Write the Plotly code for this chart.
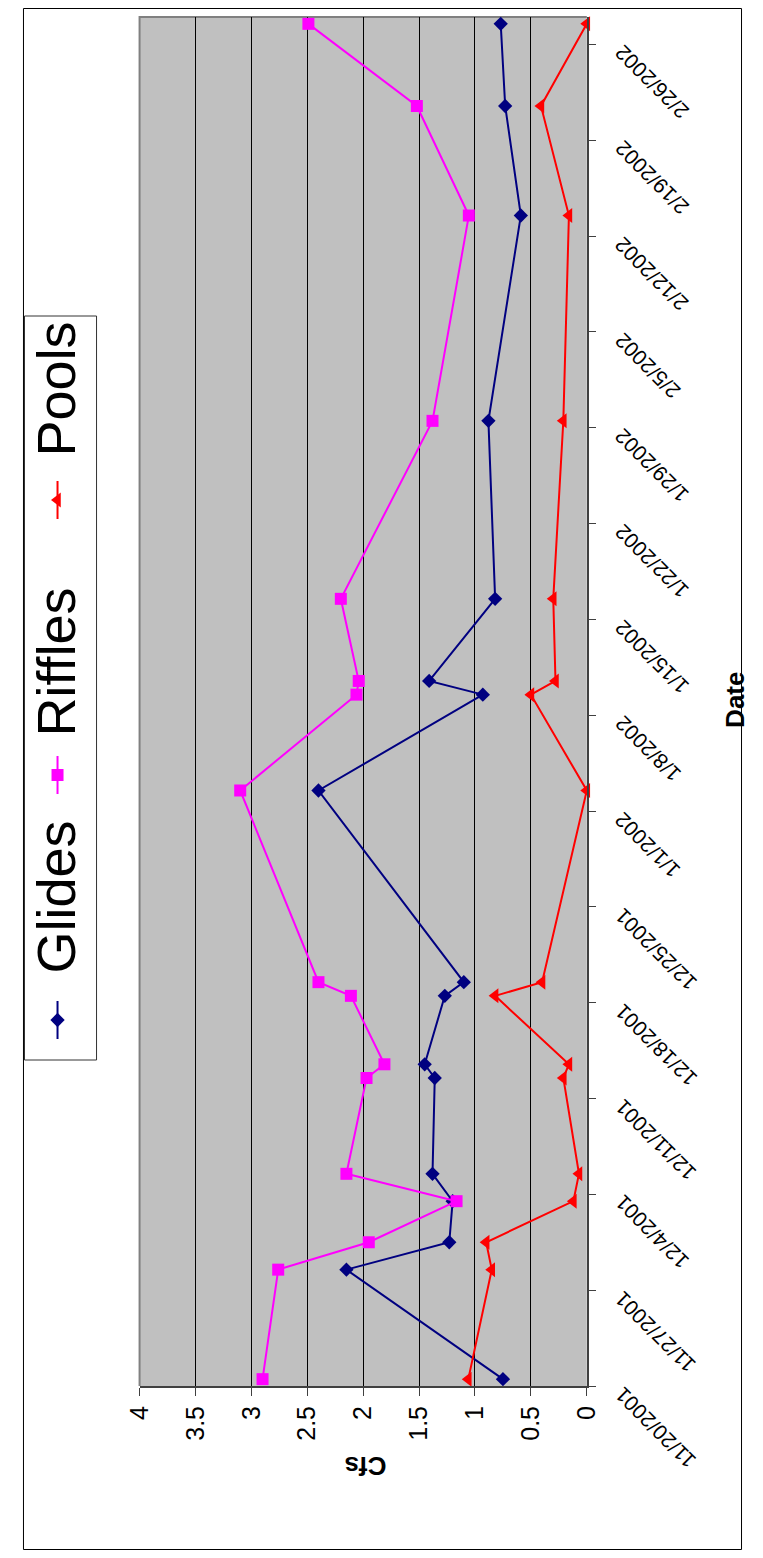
import plotly.graph_objects as go
import pandas as pd

# ---------------- data ----------------
dates = ["2001-11-20", "2001-11-28", "2001-11-30", "2001-12-03", "2001-12-05",
         "2001-12-12", "2001-12-13", "2001-12-18", "2001-12-19", "2002-01-02",
         "2002-01-09", "2002-01-10", "2002-01-16", "2002-01-29", "2002-02-13",
         "2002-02-21", "2002-02-27"]
glides = [0.75, 2.15, 1.23, 1.20, 1.38, 1.36, 1.45, 1.27, 1.10, 2.40,
          0.93, 1.41, 0.82, 0.88, 0.59, 0.73, 0.77]
riffles = [2.90, 2.76, 1.95, 1.165, 2.15, 1.97, 1.81, 2.11, 2.40, 3.10,
           2.06, 2.04, 2.20, 1.38, 1.055, 1.52, 2.49]
pools = [1.06, 0.85, 0.90, 0.12, 0.07, 0.21, 0.16, 0.82, 0.40, 0.00,
         0.50, 0.28, 0.30, 0.21, 0.16, 0.41, 0.00]

date_ticks = ["2001-11-20", "2001-11-27", "2001-12-04", "2001-12-11", "2001-12-18",
              "2001-12-25", "2002-01-01", "2002-01-08", "2002-01-15", "2002-01-22",
              "2002-01-29", "2002-02-05", "2002-02-12", "2002-02-19", "2002-02-26"]
date_labels = ["11/20/2001", "11/27/2001", "12/4/2001", "12/11/2001", "12/18/2001",
               "12/25/2001", "1/1/2002", "1/8/2002", "1/15/2002", "1/22/2002",
               "1/29/2002", "2/5/2002", "2/12/2002", "2/19/2002", "2/26/2002"]
cfs_ticks = [0, 0.5, 1, 1.5, 2, 2.5, 3, 3.5, 4]
cfs_labels = ["0", "0.5", "1", "1.5", "2", "2.5", "3", "3.5", "4"]
series_names = ["Glides", "Riffles", "Pools"]

# ---------------- geometry helpers ----------------
OFF = 8
W, H = 747, 1542
# measured: picture x = SX0 + SXK * page x
SX0, SXK = 14.8, 0.962


def px(X):
    """target picture x -> paper x"""
    return ((X - SX0) / SXK - OFF) / W


def py(Y):
    """target picture y -> paper y"""
    return (OFF + H - Y) / H


FONT = "Arial, Liberation Sans, sans-serif"
colors = ["#000080", "#FF00FF", "#FF0000"]
symbols = ["diamond", "square", "triangle-left"]
sizes = [11, 12, 13]

# points sit in the middle of their day (Excel date axis)
ydates = pd.to_datetime(dates) + pd.Timedelta(hours=12)

fig = go.Figure()
for name, vals, c, s, sz in zip(series_names, [glides, riffles, pools], colors, symbols, sizes):
    fig.add_trace(go.Scatter(
        x=vals, y=ydates, mode="lines+markers", name=name,
        line=dict(color=c, width=2),
        marker=dict(symbol=s, size=sz, color=c, line=dict(width=0)),
        cliponaxis=False, showlegend=False, xaxis="x", yaxis="y"))

# legend samples on their own hidden axes (units = picture pixels)
LEG_L, LEG_R, LEG_T, LEG_B = 24, 96, 316, 1060
leg_y = [1020, 775, 500]
for name, c, s, sz, yy in zip(series_names, colors, symbols, sizes, leg_y):
    fig.add_trace(go.Scatter(x=[57, 57], y=[yy - 19, yy + 19], mode="lines",
                             line=dict(color=c, width=2), showlegend=False,
                             xaxis="x2", yaxis="y2", hoverinfo="skip"))
    fig.add_trace(go.Scatter(x=[57], y=[yy], mode="markers",
                             marker=dict(symbol=s, size=sz, color=c),
                             showlegend=False, xaxis="x2", yaxis="y2", hoverinfo="skip"))

fig.update_layout(
    width=W, height=H,
    margin=dict(l=0, r=0, t=0, b=0, pad=0),
    paper_bgcolor="white", plot_bgcolor="#C0C0C0",
    font=dict(family=FONT, color="black"),
    showlegend=False,
    xaxis=dict(
        domain=[px(139), px(586)], range=[4, 0], anchor="y",
        tickvals=cfs_ticks, ticktext=cfs_labels, tickangle=-90,
        tickfont=dict(size=25, family=FONT, color="black"),
        showgrid=True, gridcolor="#000000", gridwidth=1,
        ticks="outside", ticklen=8, tickcolor="#404040", tickwidth=1,
        showline=True, linecolor="#404040", linewidth=2, zeroline=False,
    ),
    yaxis=dict(
        domain=[py(1386), py(17)], type="date", anchor="x", side="right",
        range=["2001-11-20", "2002-02-28"],
        tickvals=date_ticks, showticklabels=False,
        ticks="outside", ticklen=7, tickcolor="#404040", tickwidth=1,
        showgrid=False, showline=True, linecolor="#404040", linewidth=2,
        zeroline=False,
    ),
    xaxis2=dict(domain=[px(LEG_L), px(LEG_R)], range=[LEG_L, LEG_R], anchor="y2",
                visible=False, fixedrange=True),
    yaxis2=dict(domain=[py(LEG_B), py(LEG_T)], range=[LEG_B, LEG_T], anchor="x2",
                visible=False, fixedrange=True),
)

shapes = [
    # outer chart border
    dict(type="rect", xref="paper", yref="paper",
         x0=0.5 / W, x1=1 - 0.5 / W, y0=0.5 / H, y1=1 - 0.5 / H,
         line=dict(color="#000000", width=1)),
    # plot area border (top and left)
    dict(type="path", xref="paper", yref="paper",
         path=f"M {px(586)},{py(17)} L {px(139)},{py(17)} L {px(139)},{py(1386)}",
         line=dict(color="#808080", width=2), layer="between"),
    # legend box (white, hides the subplot background)
    dict(type="rect", xref="paper", yref="paper", x0=px(LEG_L), x1=px(LEG_R),
         y0=py(LEG_B), y1=py(LEG_T), line=dict(color="#333333", width=1),
         fillcolor="white", layer="below"),
]
fig.update_layout(shapes=shapes)

annotations = []
# date tick labels (rotated like the original sideways chart)
for d, lab in zip(date_ticks, date_labels):
    annotations.append(dict(
        x=px(607), xref="paper", xanchor="left",
        y=d, yref="y", yanchor="top", yshift=6,
        text=lab, textangle=-135, showarrow=False,
        font=dict(size=21, family=FONT, color="black")))
# axis titles
annotations.append(dict(x=px(365), y=py(1466), xref="paper", yref="paper",
                        xanchor="center", yanchor="middle",
                        text="<b>Cfs</b>", textangle=180, showarrow=False,
                        font=dict(size=26, family=FONT, color="black")))
annotations.append(dict(x=px(734), y=py(700), xref="paper", yref="paper",
                        xanchor="center", yanchor="middle",
                        text="<b>Date</b>", textangle=-90, showarrow=False,
                        font=dict(size=26, family=FONT, color="black")))
# legend texts
leg_text_y = [897, 662, 389]
for name, yy in zip(series_names, leg_text_y):
    annotations.append(dict(x=55, y=yy, xref="x2", yref="y2", text=name,
                            xanchor="center", yanchor="middle",
                            textangle=-90, showarrow=False,
                            font=dict(size=54, family=FONT, color="black")))
fig.update_layout(annotations=annotations)

fig.write_html("out.html")
